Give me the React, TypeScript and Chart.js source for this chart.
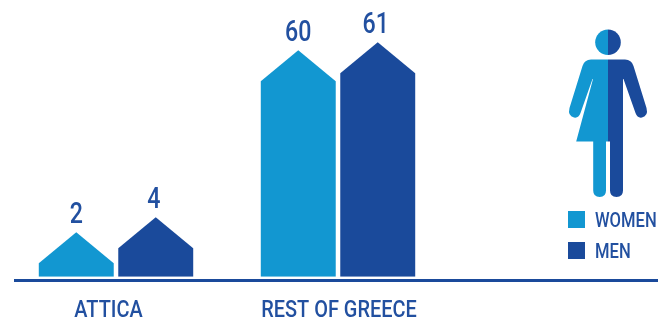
import React, { useEffect, useRef } from "react";
import {
  Chart,
  BarController,
  BarElement,
  CategoryScale,
  LinearScale,
} from "chart.js";

// ---- data ----
const categories = ["ATTICA", "REST OF GREECE"];
const womenValues = [2, 60];
const menValues = [4, 61];
const seriesNames = ["WOMEN", "MEN"];

// ---- styling ----
const WOMEN_BLUE = "#1297d1";
const MEN_BLUE = "#1a4a9b";
const TEXT_BLUE = "#2250a0";
const FONT = 'Roboto, sans-serif';
const ROOF_HEIGHT = 31;

// The value axis is broken between 4 and 60: stops in data units and their
// heights in pixels above the baseline.
const axisStops = [0, 2, 4, 60, 61];
const axisHeights = [0, 44.5, 59.5, 226.5, 234.5];

// Nudges applied to the category captions and, per series, the value labels.
const captionShift = [-7.5, 1];
const valueLabelShift = [0, -2];

class BrokenScale extends LinearScale {
  static id = "broken";
  static defaults = LinearScale.defaults;
  getPixelForValue(value: number) {
    let h = axisHeights[axisHeights.length - 1];
    for (let i = 1; i < axisStops.length; i++) {
      if (value <= axisStops[i]) {
        const t = (value - axisStops[i - 1]) / (axisStops[i] - axisStops[i - 1]);
        h = axisHeights[i - 1] + t * (axisHeights[i] - axisHeights[i - 1]);
        break;
      }
    }
    return (this as any).bottom - h;
  }
}

// Bar element with a pitched roof whose apex sits on the value.
class HouseElement extends BarElement {
  static id = "house";
  draw(ctx: CanvasRenderingContext2D) {
    const { x, y, base, width } = (this as any).getProps(["x", "y", "base", "width"]);
    const half = width / 2;
    ctx.save();
    ctx.fillStyle = (this as any).options.backgroundColor;
    ctx.beginPath();
    ctx.moveTo(x - half, base);
    ctx.lineTo(x - half, y + ROOF_HEIGHT);
    ctx.lineTo(x, y);
    ctx.lineTo(x + half, y + ROOF_HEIGHT);
    ctx.lineTo(x + half, base);
    ctx.closePath();
    ctx.fill();
    ctx.restore();
  }
}

class HouseController extends BarController {
  static id = "houseBar";
  static defaults = { dataElementType: "house" };
}

Chart.register(HouseController, HouseElement, BrokenScale, CategoryScale);

// Text squeezed horizontally, standing in for a condensed typeface.
function narrowText(
  ctx: CanvasRenderingContext2D,
  text: string,
  x: number,
  y: number,
  squeeze: number
) {
  ctx.save();
  ctx.translate(x, y);
  ctx.scale(squeeze, 1);
  ctx.fillText(text, 0, 0);
  ctx.restore();
}

// Left half of the pictogram.
function drawWomanHalf(ctx: CanvasRenderingContext2D) {
  ctx.fillStyle = WOMEN_BLUE;
  ctx.beginPath();
  ctx.arc(608, 42.3, 12.8, Math.PI / 2, (3 * Math.PI) / 2);
  ctx.closePath();
  ctx.fill();

  ctx.beginPath();
  ctx.moveTo(608, 59.5);
  ctx.lineTo(591, 59.5);
  ctx.quadraticCurveTo(584.5, 59.5, 582.5, 66);
  ctx.lineTo(569.5, 108);
  ctx.quadraticCurveTo(567.5, 116, 574, 117.5);
  ctx.quadraticCurveTo(578.5, 118.5, 580.5, 113);
  ctx.lineTo(592.5, 79);
  ctx.lineTo(593, 79);
  ctx.lineTo(576.2, 141.5);
  ctx.lineTo(593.2, 141.5);
  ctx.lineTo(593.2, 190.5);
  ctx.quadraticCurveTo(593.2, 197, 599.7, 197);
  ctx.quadraticCurveTo(606, 197, 606, 190.5);
  ctx.lineTo(606, 141.5);
  ctx.lineTo(608, 141.5);
  ctx.closePath();
  ctx.fill();
}

// Right half of the pictogram.
function drawManHalf(ctx: CanvasRenderingContext2D) {
  ctx.fillStyle = MEN_BLUE;
  ctx.beginPath();
  ctx.arc(608, 42.3, 12.8, -Math.PI / 2, Math.PI / 2);
  ctx.closePath();
  ctx.fill();

  ctx.beginPath();
  ctx.moveTo(608, 59.5);
  ctx.lineTo(625, 59.5);
  ctx.quadraticCurveTo(631.5, 59.5, 633.5, 66);
  ctx.lineTo(646.5, 108);
  ctx.quadraticCurveTo(648.5, 116, 642, 117.5);
  ctx.quadraticCurveTo(637.5, 118.5, 635.5, 113);
  ctx.lineTo(623.5, 79);
  ctx.lineTo(623, 79);
  ctx.lineTo(623, 190.5);
  ctx.quadraticCurveTo(623, 197, 616.5, 197);
  ctx.quadraticCurveTo(610, 197, 610, 190.5);
  ctx.lineTo(610, 141.5);
  ctx.lineTo(608, 141.5);
  ctx.closePath();
  ctx.fill();
}

const decorations = {
  id: "decorations",
  afterDatasetsDraw(chart: any) {
    const { ctx, data, scales } = chart;
    ctx.save();

    // Baseline running under the plot and the legend column.
    ctx.fillStyle = MEN_BLUE;
    ctx.fillRect(14, 279, 644, 3);

    // Value labels above each apex.
    ctx.fillStyle = TEXT_BLUE;
    ctx.font = `500 29px ${FONT}`;
    ctx.textAlign = "center";
    ctx.textBaseline = "alphabetic";
    data.datasets.forEach((ds: any, i: number) => {
      chart.getDatasetMeta(i).data.forEach((bar: any, j: number) => {
        narrowText(ctx, String(ds.data[j]), bar.x + valueLabelShift[i], bar.y - 9.5, 0.8);
      });
    });

    // Category captions under the baseline.
    ctx.font = `500 24px ${FONT}`;
    (data.labels as string[]).forEach((label, i) => {
      narrowText(ctx, label, scales.x.getPixelForTick(i) + captionShift[i], 317, 0.83);
    });

    drawWomanHalf(ctx);
    drawManHalf(ctx);

    // Legend entries beneath the pictogram.
    ctx.font = `500 20px ${FONT}`;
    ctx.textAlign = "left";
    data.datasets.forEach((ds: any, i: number) => {
      const top = 211 + i * 31;
      ctx.fillStyle = ds.backgroundColor;
      ctx.fillRect(568, top, 17, 17);
      ctx.fillStyle = TEXT_BLUE;
      narrowText(ctx, ds.label, 595, top + 16, 0.83);
    });

    ctx.restore();
  },
};

export default function App() {
  const ref = useRef<HTMLCanvasElement>(null);

  useEffect(() => {
    document.body.style.margin = "0";
    const chart = new Chart(ref.current as HTMLCanvasElement, {
      type: "houseBar" as any,
      data: {
        labels: categories,
        datasets: [
          { label: seriesNames[0], data: womenValues, backgroundColor: WOMEN_BLUE },
          { label: seriesNames[1], data: menValues, backgroundColor: MEN_BLUE },
        ],
      },
      plugins: [decorations],
      options: {
        responsive: false,
        animation: false,
        events: [],
        categoryPercentage: 0.716,
        barPercentage: 0.943,
        layout: { padding: { left: 5, right: 209, top: 0, bottom: 0 } },
        plugins: { legend: { display: false }, tooltip: { enabled: false } },
        scales: {
          x: {
            type: "category",
            offset: true,
            grid: { display: false, drawTicks: false },
            border: { display: false },
            ticks: { display: false },
            afterFit(scale: any) {
              scale.height = 47.3;
            },
          },
          y: { type: "broken", display: false, min: 0, max: 70 },
        },
      } as any,
    });
    return () => chart.destroy();
  }, []);

  return <canvas ref={ref} width={658} height={324} style={{ display: "block" }} />;
}
